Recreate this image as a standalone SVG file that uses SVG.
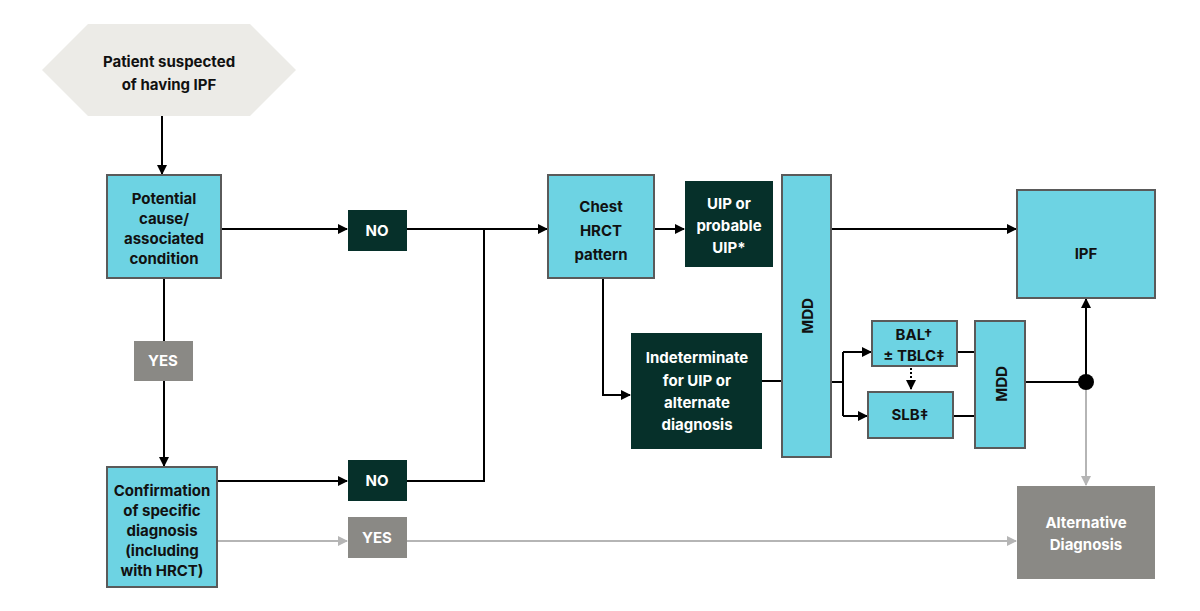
<svg xmlns="http://www.w3.org/2000/svg" width="1200" height="611" viewBox="0 0 1200 611">
<style>
text{font-family:Inter,"Liberation Sans",sans-serif;font-weight:700;text-anchor:middle;}
.c{fill:#6dd3e3;stroke:#5a5a5a;stroke-width:2}
.d{fill:#06302a}
.g{fill:#8a8985}
.t{font-size:15px;fill:#111}
.w{font-size:15px;fill:#fff}
.k{stroke:#000;stroke-width:2;fill:none}
.l{stroke:#b5b5b5;stroke-width:2;fill:none}
</style>
<defs>
<marker id="a" viewBox="0 0 10 10" refX="9" refY="5" markerWidth="5" markerHeight="5" orient="auto"><path d="M0,0L10,5L0,10z" fill="#000"/></marker>
<marker id="ag" viewBox="0 0 10 10" refX="9" refY="5" markerWidth="5" markerHeight="5" orient="auto"><path d="M0,0L10,5L0,10z" fill="#b5b5b5"/></marker>
</defs>
<rect width="1200" height="611" fill="#fff"/>
<g id="connectors">
<path class="k" d="M162,116V174" marker-end="url(#a)"/>
<path class="k" d="M164,278V466" marker-end="url(#a)"/>
<path class="k" d="M221,229H347" marker-end="url(#a)"/>
<path class="k" d="M407,229H547" marker-end="url(#a)"/>
<path class="k" d="M217,481H347" marker-end="url(#a)"/>
<path class="k" d="M407,481H484V229"/>
<path class="l" d="M217,541H347" marker-end="url(#ag)"/>
<path class="l" d="M407,541H1016" marker-end="url(#ag)"/>
<path class="k" d="M654,229H684" marker-end="url(#a)"/>
<path class="k" d="M831,229H1016" marker-end="url(#a)"/>
<path class="k" d="M603,278V395H630" marker-end="url(#a)"/>
<path class="k" d="M762,381H782"/>
<path class="k" d="M831,382H843"/>
<path class="k" d="M843,352V416"/>
<path class="k" d="M843,352H871" marker-end="url(#a)"/>
<path class="k" d="M843,416H867" marker-end="url(#a)"/>
<path class="k" d="M911,368V389" stroke-dasharray="2,2" marker-end="url(#a)"/>
<path class="k" d="M957,352H975M953,416H975"/>
<path class="k" d="M1025,382H1086"/>
<path class="k" d="M1086,382V299" marker-end="url(#a)"/>
<path class="l" d="M1086,390V485" marker-end="url(#ag)"/>
<circle cx="1086" cy="382" r="8" fill="#000"/>
</g>
<g id="start"><polygon points="42,70 88,24 250,24 296,70 250,116 88,116" fill="#ecebe7"/>
<text class="t" x="169" y="67" font-size="16">Patient suspected</text><text class="t" x="169" y="90">of having IPF</text></g>
<g id="potential"><rect class="c" x="107" y="175" width="114" height="103"/>
<text class="t" x="164" y="204">Potential</text><text class="t" x="164" y="224">cause/</text><text class="t" x="164" y="244">associated</text><text class="t" x="164" y="264">condition</text></g>
<g id="yes1"><rect class="g" x="134" y="341" width="59" height="40"/><text class="w" x="163" y="366">YES</text></g>
<g id="confirm"><rect class="c" x="107" y="467" width="110" height="120"/>
<text class="t" x="162" y="496">Confirmation</text><text class="t" x="162" y="516">of specific</text><text class="t" x="162" y="536">diagnosis</text><text class="t" x="162" y="556">(including</text><text class="t" x="162" y="576">with HRCT)</text></g>
<g id="no1"><rect class="d" x="348" y="210" width="59" height="41"/><text class="w" x="377" y="236">NO</text></g>
<g id="no2"><rect class="d" x="348" y="460" width="59" height="41"/><text class="w" x="377" y="486">NO</text></g>
<g id="yes2"><rect class="g" x="348" y="517" width="59" height="41"/><text class="w" x="377" y="543">YES</text></g>
<g id="chest"><rect class="c" x="548" y="175" width="106" height="103"/>
<text class="t" x="601" y="212" font-size="19">Chest</text><text class="t" x="601" y="236" font-size="19">HRCT</text><text class="t" x="601" y="260" font-size="19">pattern</text></g>
<g id="uip"><rect class="d" x="685" y="181" width="88" height="86"/>
<text class="w" x="729" y="209">UIP or</text><text class="w" x="729" y="231">probable</text><text class="w" x="729" y="253">UIP*</text></g>
<g id="mdd1"><rect class="c" x="782" y="175" width="49" height="282"/>
<text class="t" font-size="19" transform="translate(813,316) rotate(-90)">MDD</text></g>
<g id="ipf"><rect class="c" x="1017" y="190" width="138" height="108"/><text class="t" x="1086" y="259" font-size="40">IPF</text></g>
<g id="indet"><rect class="d" x="631" y="333" width="131" height="116"/>
<text class="w" x="697" y="363">Indeterminate</text><text class="w" x="697" y="386">for UIP or</text><text class="w" x="697" y="408">alternate</text><text class="w" x="697" y="430">diagnosis</text></g>
<g id="bal"><rect class="c" x="872" y="321" width="85" height="45"/>
<text class="t" x="914" y="340" font-size="14">BAL†</text><text class="t" x="914" y="361" font-size="14">± TBLC‡</text></g>
<g id="slb"><rect class="c" x="868" y="392" width="85" height="46"/><text class="t" x="910" y="420" font-size="14">SLB‡</text></g>
<g id="mdd2"><rect class="c" x="975" y="321" width="50" height="127"/>
<text class="t" font-size="19" transform="translate(1007,384) rotate(-90)">MDD</text></g>
<g id="alt"><rect class="g" x="1017" y="486" width="138" height="93"/>
<text class="w" x="1086" y="528">Alternative</text><text class="w" x="1086" y="550">Diagnosis</text></g>
</svg>
